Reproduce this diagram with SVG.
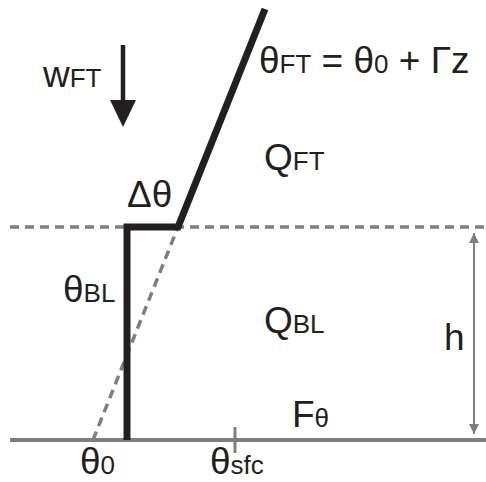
<svg xmlns="http://www.w3.org/2000/svg" width="486" height="482" viewBox="0 0 486 482">
<defs>
<style>
text{font-family:"Liberation Sans",Arial,sans-serif;font-size:37px;fill:#231f20}
.sub{font-size:26px}
.gray{stroke:#7f7f80;fill:none}
.prof{stroke:#231f20;stroke-width:7;fill:none;stroke-linejoin:miter}
</style>
<marker id="ah" viewBox="0 0 10 10" refX="10" refY="5" markerWidth="10" markerHeight="10" markerUnits="userSpaceOnUse" orient="auto-start-reverse"><path d="M0,0 L10,5 L0,10 Z" fill="#7f7f80"/></marker>
</defs>
<g id="connectors">
<line class="gray" x1="10" y1="227" x2="486" y2="227" stroke-width="3.5" stroke-dasharray="9,6"/>
<line class="gray" x1="10" y1="440" x2="486" y2="440" stroke-width="4"/>
<line class="gray" x1="235" y1="427" x2="235" y2="453" stroke-width="3"/>
<line class="gray" x1="93" y1="440" x2="178" y2="227" stroke-width="3.5" stroke-dasharray="9,6"/>
<line class="gray" x1="474" y1="233" x2="474" y2="434" stroke-width="2" marker-start="url(#ah)" marker-end="url(#ah)"/>
<path class="prof" d="M127,440 L127,227 L178,227 L265,9"/>
<line x1="123" y1="45" x2="123" y2="102" stroke="#231f20" stroke-width="4.5"/>
<path d="M110,100 L136,100 L123,127 Z" fill="#231f20"/>
</g>
<g id="labels">
<text x="43" y="87">w<tspan class="sub">FT</tspan></text>
<text x="259" y="73">θ<tspan class="sub">FT</tspan> = θ<tspan class="sub">0</tspan> + Γz</text>
<text x="264" y="170">Q<tspan class="sub">FT</tspan></text>
<text x="127" y="207">Δθ</text>
<text x="63" y="302">θ<tspan class="sub">BL</tspan></text>
<text x="264" y="333">Q<tspan class="sub">BL</tspan></text>
<text x="444" y="350">h</text>
<text x="292" y="427">F<tspan class="sub">θ</tspan></text>
<text x="80" y="474">θ<tspan class="sub">0</tspan></text>
<text x="210" y="474">θ<tspan class="sub">sfc</tspan></text>
</g>
</svg>
